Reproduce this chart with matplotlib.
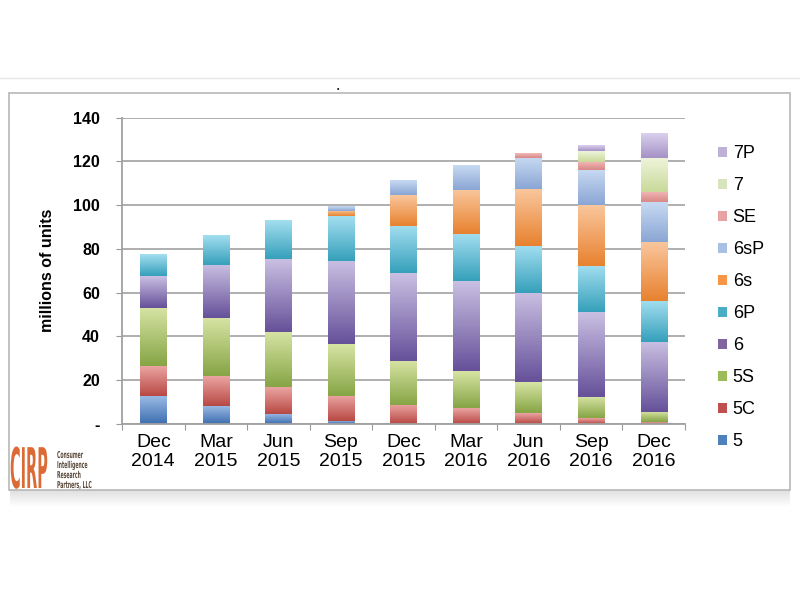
import matplotlib
matplotlib.use("Agg")
import matplotlib.pyplot as plt
import numpy as np
from matplotlib.colors import LinearSegmentedColormap
from matplotlib.patches import Patch, Rectangle, PathPatch
from matplotlib.textpath import TextPath
from matplotlib.font_manager import FontProperties
from matplotlib.transforms import Affine2D

plt.rcParams["font.family"] = ["Liberation Sans", "DejaVu Sans"]

# DATA (millions of units)
periods = ["Dec\n2014", "Mar\n2015", "Jun\n2015", "Sep\n2015", "Dec\n2015",
           "Mar\n2016", "Jun\n2016", "Sep\n2016", "Dec\n2016"]
models = ["5", "5C", "5S", "6", "6P", "6s", "6sP", "SE", "7", "7P"]
iphone_5 = [13.0, 8.4, 4.6, 1.5, 0, 0, 0, 0, 0]
iphone_5c = [13.7, 13.3, 12.2, 11.5, 8.7, 7.3, 5.0, 2.6, 0.7]
iphone_5s = [26.5, 26.6, 25.3, 23.4, 20.3, 16.7, 14.0, 9.9, 4.6]
iphone_6 = [14.6, 24.4, 33.2, 38.0, 39.9, 41.1, 40.8, 38.5, 32.0]
iphone_6p = [9.8, 13.4, 17.7, 20.4, 21.6, 21.6, 21.6, 21.3, 19.0]
iphone_6s = [0, 0, 0, 2.3, 13.9, 20.3, 25.9, 27.7, 26.9]
iphone_6sp = [0, 0, 0, 2.0, 6.4, 11.2, 14.2, 16.0, 18.0]
iphone_se = [0, 0, 0, 0, 0, 0, 2.2, 3.8, 4.6]
iphone_7 = [0, 0, 0, 0, 0, 0, 0, 4.7, 15.5]
iphone_7p = [0, 0, 0, 0, 0, 0, 0, 2.3, 11.1]
series = [iphone_5, iphone_5c, iphone_5s, iphone_6, iphone_6p,
          iphone_6s, iphone_6sp, iphone_se, iphone_7, iphone_7p]
logo_lines = ["Consumer", "Intelligence", "Research", "Partners, LLC"]

# (bottom colour, top colour) - excel style gradient fills
shades = [("#3e6fb0", "#9cbce6"), ("#b84944", "#eba4a2"), ("#86a545", "#d7e4a4"),
          ("#66519a", "#c9bfe2"), ("#36a0bb", "#a3def0"), ("#e8822f", "#f9c69c"),
          ("#8aa6d4", "#c8daf2"), ("#d98886", "#f2b9b7"), ("#c9d99a", "#eef4d9"),
          ("#a592c6", "#dad0ec")]
legend_colors = ["#4f81bd", "#c0504d", "#9bbb59", "#8064a2", "#4bacc6",
                 "#f79646", "#a7c0e4", "#e6a3a1", "#d7e4bd", "#bfb1d6"]

fig = plt.figure(figsize=(8, 6), dpi=100)
fig.patch.set_facecolor("white")
px = Affine2D().scale(1 / 800, 1 / 600) + fig.transFigure  # pixel coords, y from bottom


def squeezed_text(s, x, y, sx, sy, color, weight="bold"):
    # text drawn as a path, stretched independently in x and y
    tp = TextPath((0, 0), s, size=1, prop=FontProperties(family="DejaVu Sans", weight=weight))
    tr = Affine2D().scale(sx, sy).translate(x, y) + px
    fig.add_artist(PathPatch(tp, transform=tr, facecolor=color, edgecolor="none"))


# slide frame, top rule and shadow
fig.add_artist(plt.Line2D([0, 1], [1 - 78 / 600] * 2, color="#e6e6e6", lw=1, zorder=-5))
for k in range(16):
    fig.add_artist(Rectangle((10 / 800, 1 - (491 + k) / 600), 780 / 800, 1 / 600,
                             facecolor="#707070", edgecolor="none",
                             alpha=0.22 * (1 - k / 16), zorder=-5))
fig.add_artist(Rectangle((9 / 800, 1 - 490 / 600), 781 / 800, 397 / 600,
                         facecolor="white", edgecolor="#b8b8b8", lw=1.2, zorder=-4))
fig.text(338 / 800, 1 - 89 / 600, "•", fontsize=5, ha="center", va="center")

ax = fig.add_axes([122 / 800, 1 - 424 / 600, 563 / 800, 306.5 / 600])
ax.set_facecolor("none")
ax.set_zorder(2)

x = np.arange(len(periods))
bottom = np.zeros(len(periods))
containers = []
for vals in series:
    bars = ax.bar(x, vals, width=0.42, bottom=bottom, color="none", edgecolor="none", zorder=2)
    containers.append(bars)
    bottom = bottom + np.array(vals)

grad = np.linspace(0, 1, 64).reshape(-1, 1)
for bars, (dark, light) in zip(containers, shades):
    cmap = LinearSegmentedColormap.from_list("g", [dark, light])
    for p in bars.patches:
        if p.get_height() <= 0:
            continue
        x0, y0 = p.get_x(), p.get_y()
        ax.imshow(grad, extent=[x0, x0 + p.get_width(), y0, y0 + p.get_height()],
                  origin="lower", aspect="auto", cmap=cmap, interpolation="bilinear", zorder=2)

ax.set_xlim(-0.5, len(periods) - 0.5)
ax.set_ylim(0, 140)
ax.set_yticks(np.arange(0, 141, 20))
ax.set_yticklabels(["-"] + [str(v) for v in range(20, 141, 20)], fontweight="bold", fontsize=11.5)
ax.yaxis.grid(True, color="#a8a8a8", lw=1.3)
ax.set_axisbelow(True)

ax.set_xticks(np.arange(len(periods) + 1) - 0.5)
ax.set_xticklabels([])
ax.set_xticks(x, minor=True)
ax.set_xticklabels(periods, minor=True, fontsize=14)
ax.tick_params(axis="x", which="major", length=4, color="#999999", direction="out")
ax.tick_params(axis="x", which="minor", length=0, pad=7)
ax.tick_params(axis="y", length=4, color="#999999", pad=12)

for s in ["top", "right"]:
    ax.spines[s].set_visible(False)
ax.spines["left"].set_color("#a0a0a0")
ax.spines["bottom"].set_color("#a0a0a0")
ax.spines["left"].set_linewidth(1.3)
ax.spines["bottom"].set_linewidth(1.3)

fig.text(48 / 800, 1 - 270 / 600, "millions of units", rotation=90, fontsize=11.5,
         fontweight="bold", ha="center", va="center")

handles = [Patch(facecolor=c, edgecolor="none") for c in legend_colors]
fig.legend(handles[::-1], models[::-1], loc="upper left", bbox_to_anchor=(702 / 800, 1 - 129 / 600),
           frameon=False, fontsize=13, handlelength=0.5, handleheight=0.5,
           handletextpad=0.3, labelspacing=0.83)

# CIRP logo
squeezed_text("CIRP", 10, 112, 14.5, 56, "#dc6a35", weight="bold")
for i, line in enumerate(logo_lines):
    squeezed_text(line, 57, 142 - 10 * i, 4.6, 9.5, "#5a4a3a")

fig.savefig("out.png", dpi=100)
